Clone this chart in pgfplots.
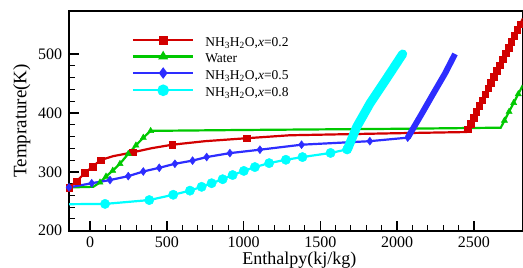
\documentclass[border=0pt]{standalone}
\usepackage{fontspec}
\setmainfont{Liberation Serif}
\usepackage{pgfplots}
\pgfplotsset{compat=1.18}
\definecolor{cred}{RGB}{210,0,0}
\definecolor{cgreen}{RGB}{0,200,0}
\definecolor{cblue}{RGB}{45,45,255}
\definecolor{ccyan}{RGB}{0,255,255}
\begin{document}
\begin{tikzpicture}
\useasboundingbox (-69bp,-37.3bp) rectangle (454bp,230.7bp);
\clip (-69bp,-37.3bp) rectangle (454bp,230.7bp);
\begin{axis}[
  at={(0,0)}, anchor=south west,
  scale only axis, width=453.5bp, height=219.7bp,
  xmin=-137, xmax=2817.6, ymin=200, ymax=573,
  xtick={0,500,1000,1500,2000,2500}, minor x tick num=4,
  ytick={200,300,400,500}, minor y tick num=4,
  tick align=inside, xtick pos=bottom, ytick pos=left,
  major tick length=9.5bp, minor tick length=5.5bp,
  every tick/.style={black, line width=1.5bp},
  every minor tick/.style={black, line width=1bp},
  axis line style={line width=1.6bp},
  /pgf/number format/assume math mode=true,
  /pgf/number format/set thousands separator={},
  ticklabel style={font=\fontsize{16bp}{19bp}\selectfont},
  xticklabel style={anchor=base, yshift=-16.3bp, inner sep=0pt},
  yticklabel style={anchor=east, inner sep=0pt, xshift=-6.7bp},
  xlabel={Enthalpy(kj/kg)}, ylabel={Temprature(K)},
  every axis x label/.style={at={(axis description cs:0.508,0)}, anchor=base, inner sep=0pt, yshift=-33.3bp, font=\fontsize{18bp}{21bp}\selectfont},
  every axis y label/.style={at={(axis description cs:-0.1043,0.5)}, anchor=center, rotate=90, font=\fontsize{19bp}{22bp}\selectfont},
  legend image code/.code={\draw[mark repeat=2,mark phase=2,#1] plot coordinates {(0bp,4.5bp) (30.3bp,4.5bp) (60.6bp,4.5bp)};},
  legend style={draw=none, fill=none, inner sep=0pt, outer sep=0pt, row sep=0pt,
    column sep=10.7bp, font=\fontsize{13.5bp}{16bp}\selectfont,
    nodes={inner sep=0pt, text height=10bp, text depth=6.1bp},
    at={(axis description cs:0.1384,0.8826)}, anchor=north west},
  legend cell align=left,
]
% Red x=0.2
\addplot[cred, line width=2.2bp, forget plot] coordinates {
 (-137,273) (-87,284) (-33,298) (17,309) (70,320) (150,326.5) (278,333) (400,340)
 (536,346) (750,352) (1020,357) (1300,362) (1600,363.5) (2000,365.5) (2452,367.5)
 (2460,372.2) (2479,382.1) (2498,392.0) (2517,401.9) (2536,411.8) (2555,421.8)
 (2574,431.7) (2593,441.6) (2612,451.5) (2631,461.4) (2650,471.4) (2669,481.3)
 (2688,491.2) (2707,501.1) (2726,511.0) (2745,521.0) (2764,530.9) (2783,540.8)
 (2802,550.7) (2821,560.6)};
\addplot[cred, only marks, mark=square*, mark size=3.3bp, forget plot] coordinates {
 (-137,273) (-87,284) (-33,298) (17,309) (70,320) (278,333) (536,346) (1020,357)
 (2460,372.2) (2479,382.1) (2498,392.0) (2517,401.9) (2536,411.8) (2555,421.8)
 (2574,431.7) (2593,441.6) (2612,451.5) (2631,461.4) (2650,471.4) (2669,481.3)
 (2688,491.2) (2707,501.1) (2726,511.0) (2745,521.0) (2764,530.9) (2783,540.8)
 (2802,550.7) (2821,560.6)};
% Green water
\addplot[cgreen, line width=2.2bp, forget plot] coordinates {
 (-137,273.5) (21,274.5) (65,282) (104,292) (148,302) (195,313.6) (249,330.6)
 (299,344.8) (347,358) (395,369.5) (1000,371) (2000,373) (2676,374.9)
 (2700,387) (2730,402) (2760,417) (2790,432) (2820,447)};
\addplot[cgreen, only marks, mark=triangle*, mark size=3.6bp, forget plot] coordinates {
 (65,282) (104,292) (148,302) (195,313.6) (249,330.6) (299,344.8) (347,358) (395,369.5)
 (2700,387) (2730,402) (2760,417) (2790,432) (2820,447)};
% Blue x=0.5
\addplot[cblue, line width=2.2bp, forget plot] coordinates {
 (-137,273.5) (11,280.6) (130,286) (249,292.6) (347,300.5) (451,306.8) (553,313.6)
 (668,319) (760,325) (911,331.7) (1107,337.5) (1378,346) (1823,352) (2070,358)};
\addplot[cblue, line width=6bp, forget plot] coordinates {
 (2070,358) (2160,398) (2237,433) (2313,467) (2378,500)};
\addplot[cblue, only marks, mark=diamond*, mark size=4bp, forget plot] coordinates {
 (-137,273.5) (11,280.6) (130,286) (249,292.6) (347,300.5) (451,306.8) (553,313.6)
 (668,319) (760,325) (911,331.7) (1107,337.5) (1378,346) (1823,352) (2070,358)};
% Cyan x=0.8
\addplot[ccyan, line width=2.2bp, forget plot] coordinates {
 (-137,245) (98,245.5) (386,252) (542,261) (651,268) (727,274.5) (792,280.6)
 (864,287.4) (929,294.5) (1002,301.5) (1074,308) (1167,314.7) (1276,320.4)
 (1384,325) (1567,332) (1675,338)};
\addplot[ccyan, line width=9bp, line cap=round, line join=round, forget plot] coordinates {
 (1680,340) (1737,376) (1824,416) (1911,450) (2037,500)};
\addplot[ccyan, only marks, mark=*, mark size=4.7bp, forget plot] coordinates {
 (98,245.5) (386,252) (542,261) (651,268) (727,274.5) (792,280.6)
 (864,287.4) (929,294.5) (1002,301.5) (1074,308) (1167,314.7) (1276,320.4)
 (1384,325) (1567,332) (1675,338)};
% Legend
\addlegendimage{cred, line width=2.2bp, mark=square*, mark size=3.3bp}
\addlegendentry{NH\textsubscript{3}H\textsubscript{2}O,\textit{x}=0.2}
\addlegendimage{cgreen, line width=2.2bp, mark=triangle*, mark size=3.6bp}
\addlegendentry{Water}
\addlegendimage{cblue, line width=2.2bp, mark=diamond*, mark size=4bp}
\addlegendentry{NH\textsubscript{3}H\textsubscript{2}O,\textit{x}=0.5}
\addlegendimage{ccyan, line width=2.2bp, mark=*, mark size=4.7bp}
\addlegendentry{NH\textsubscript{3}H\textsubscript{2}O,\textit{x}=0.8}
\end{axis}
\end{tikzpicture}
\end{document}
